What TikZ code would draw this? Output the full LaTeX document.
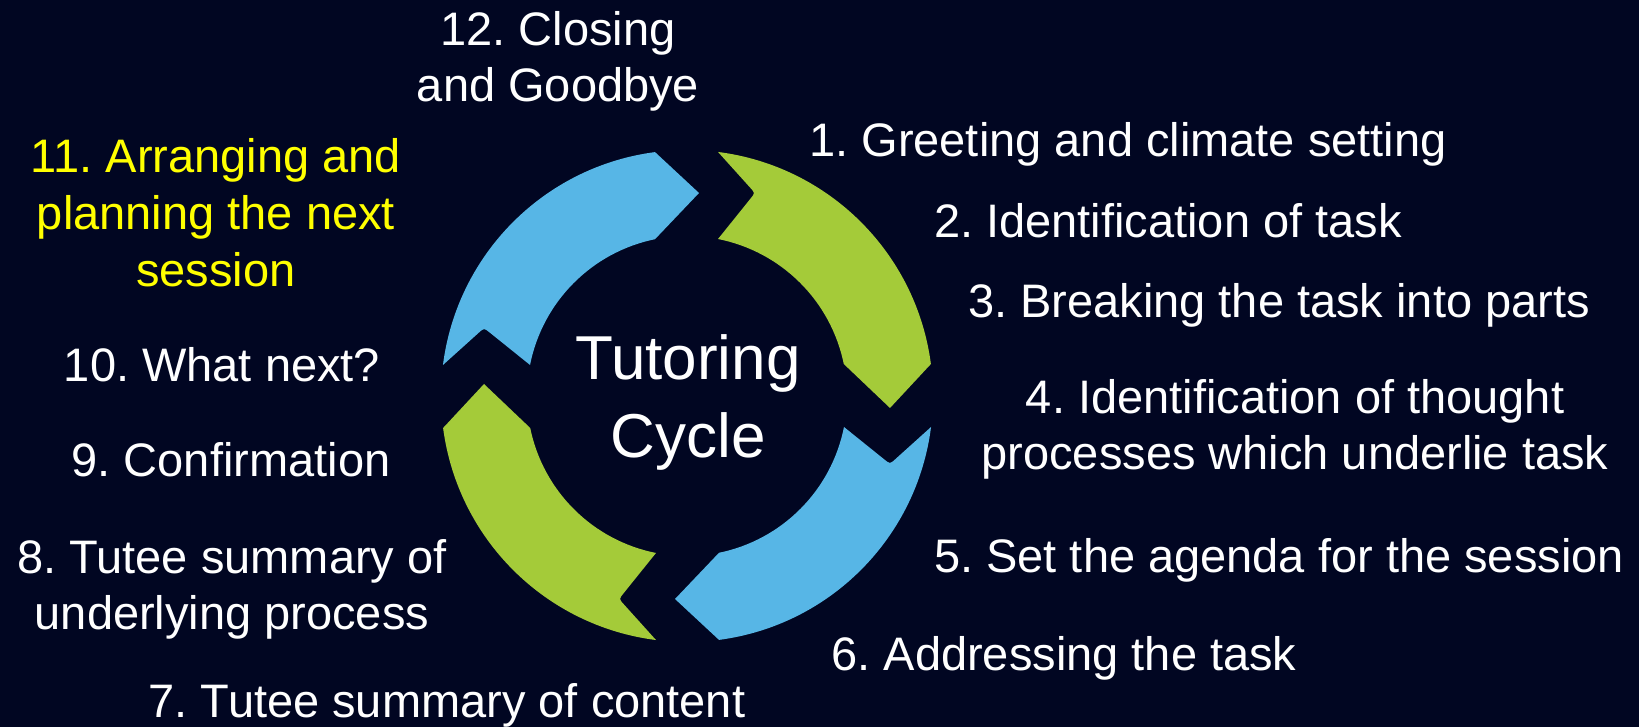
\documentclass[tikz,border=0pt]{standalone}
\usepackage{fontspec}
\setmainfont{Liberation Sans}
\frenchspacing
\definecolor{bgnavy}{RGB}{1,6,34}
\definecolor{cycblue}{RGB}{87,182,230}
\definecolor{cycgreen}{RGB}{164,203,57}
\definecolor{txtyellow}{RGB}{255,255,0}
\newcommand{\cyclearrow}{%
  (31,244.04) arc[start angle=82.76, end angle=7.47, radius=123pt]
  -- (203,-12) -- (156.77,32)
  arc[start angle=11.54, end angle=78.83, radius=80pt]
  -- (63.6,197.5) .. controls (68,203) .. (63.3,208.2) -- cycle}
\begin{document}
\begin{tikzpicture}[x=0.5pt,y=0.5pt,
  lbl/.style={text=white,font=\fontsize{23.5}{28}\selectfont\frenchspacing,align=center,inner sep=0pt,anchor=base},
  ylbl/.style={lbl,text=txtyellow,font=\fontsize{23.5}{28.5}\selectfont\frenchspacing},
  ttl/.style={text=white,font=\fontsize{31}{39}\selectfont,align=center,inner sep=0pt,anchor=base}]
\fill[bgnavy] (0,0) rectangle (1639,727);
\useasboundingbox (0,0) rectangle (1639,727);
\begin{scope}[shift={(687,331)}]
  \fill[cycgreen] \cyclearrow;
  \begin{scope}[rotate=-90]\fill[cycblue] \cyclearrow;\end{scope}
  \begin{scope}[rotate=-180]\fill[cycgreen] \cyclearrow;\end{scope}
  \begin{scope}[rotate=-270]\fill[cycblue] \cyclearrow;\end{scope}
\end{scope}
\node[ttl] (title) at (688,269) {Tutoring\\Cycle};
\node[lbl] (s12) at (558,625) {12. Closing\\and Goodbye};
\node[lbl] (s1) at (1128,570) {1. Greeting and climate setting};
\node[lbl] (s2) at (1168,489) {2. Identification of task};
\node[lbl] (s3) at (1279,409) {3. Breaking the task into parts};
\node[lbl] (s4) at (1295,257) {4. Identification of thought\\processes which underlie task};
\node[lbl] (s5) at (1279,154) {5. Set the agenda for the session};
\node[lbl] (s6) at (1064,56) {6. Addressing the task};
\node[lbl] (s7) at (447,9) {7. Tutee summary of content};
\node[lbl] (s8) at (232,97) {8. Tutee summary of\\underlying process};
\node[lbl] (s9) at (231,250) {9. Confirmation};
\node[lbl] (s10) at (222,345) {10. What next?};
\node[ylbl] (s11) at (216,440) {11. Arranging and\\planning the next\\session};
\end{tikzpicture}
\end{document}
